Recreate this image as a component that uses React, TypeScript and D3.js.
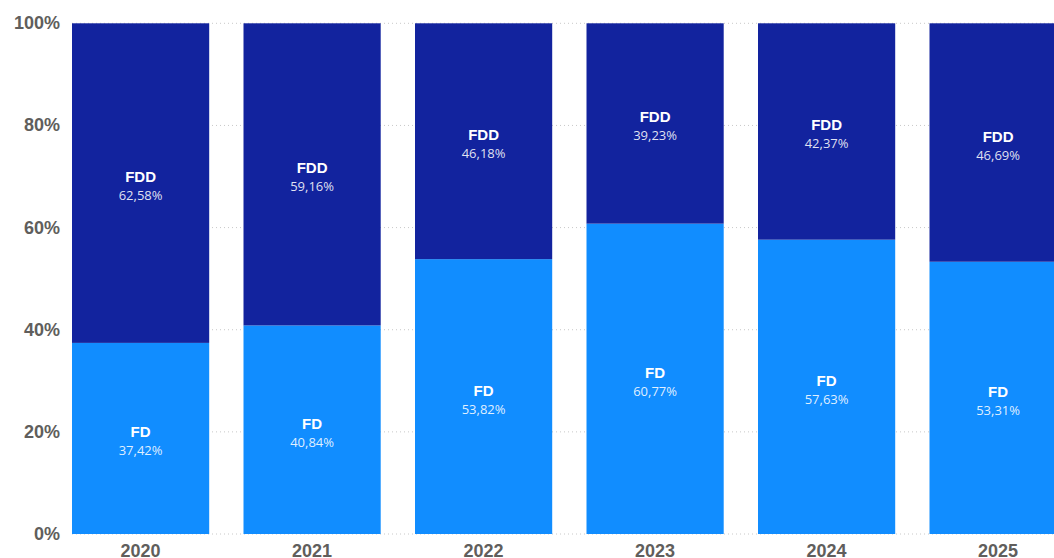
import React, { useEffect, useRef } from 'react';
import * as d3 from 'd3';

const years = ['2020', '2021', '2022', '2023', '2024', '2025'];
const fdValues = [37.42, 40.84, 53.82, 60.77, 57.63, 53.31];
const fddValues = [62.58, 59.16, 46.18, 39.23, 42.37, 46.69];
const yTicks = [0, 20, 40, 60, 80, 100];
const seriesNames = ['FD', 'FDD'];
const seriesColors = ['#118DFF', '#12239E'];

const WIDTH = 1054;
const HEIGHT = 558;

const fmt = (v: number) => d3.format('.2f')(v).replace('.', ',') + '%';

export default function App() {
  const svgRef = useRef<SVGSVGElement | null>(null);

  useEffect(() => {
    const svg = d3.select(svgRef.current);
    svg.selectAll('*').remove();

    const step = 171.5;
    const x = d3.scaleBand<string>()
      .domain(years)
      .range([54.85, 54.85 + step * years.length])
      .paddingInner(0.2)
      .paddingOuter(0.1);

    const y = d3.scaleLinear().domain([0, 100]).range([534, 23.3]);

    // gridlines
    svg.append('g')
      .selectAll('line')
      .data(yTicks)
      .enter()
      .append('line')
      .attr('x1', 72)
      .attr('x2', WIDTH)
      .attr('y1', d => y(d))
      .attr('y2', d => y(d))
      .attr('stroke', '#c8c8c8')
      .attr('stroke-width', 1)
      .attr('stroke-dasharray', '1,3');

    // y tick labels
    svg.append('g')
      .selectAll('text')
      .data(yTicks)
      .enter()
      .append('text')
      .attr('x', 60)
      .attr('y', d => y(d) + 6)
      .attr('text-anchor', 'end')
      .attr('font-family', '"Liberation Sans", Arial, sans-serif')
      .attr('font-weight', 'bold')
      .attr('font-size', '18px')
      .attr('fill', '#605E5C')
      .text(d => `${d}%`);

    const rows = years.map((yr, i) => ({ year: yr, FD: fdValues[i], FDD: fddValues[i] }));
    const stacked = d3.stack<any>().keys(seriesNames)(rows);

    stacked.forEach((layer, li) => {
      const g = svg.append('g');
      g.selectAll('rect')
        .data(layer)
        .enter()
        .append('rect')
        .attr('x', d => x(d.data.year) as number)
        .attr('width', x.bandwidth())
        .attr('y', d => y(d[1]))
        .attr('height', d => y(d[0]) - y(d[1]))
        .attr('fill', seriesColors[li]);

      // labels
      g.selectAll('text.name')
        .data(layer)
        .enter()
        .append('text')
        .attr('class', 'name')
        .attr('x', d => (x(d.data.year) as number) + x.bandwidth() / 2)
        .attr('y', d => (y(d[0]) + y(d[1])) / 2 - 1)
        .attr('text-anchor', 'middle')
        .attr('font-family', '"Liberation Sans", Arial, sans-serif')
        .attr('font-weight', 'bold')
        .attr('font-size', '15px')
        .attr('fill', '#ffffff')
        .text(seriesNames[li]);

      g.selectAll('text.val')
        .data(layer)
        .enter()
        .append('text')
        .attr('class', 'val')
        .attr('x', d => (x(d.data.year) as number) + x.bandwidth() / 2)
        .attr('y', d => (y(d[0]) + y(d[1])) / 2 + 17)
        .attr('text-anchor', 'middle')
        .attr('font-family', '"Open Sans", "Noto Sans", sans-serif')
        .attr('font-size', '13px')
        .attr('fill', '#ffffff')
        .attr('fill-opacity', 0.88)
        .text(d => fmt(d[1] - d[0]));
    });

    // x axis labels
    svg.append('g')
      .selectAll('text')
      .data(years)
      .enter()
      .append('text')
      .attr('x', d => (x(d) as number) + x.bandwidth() / 2)
      .attr('y', 557)
      .attr('text-anchor', 'middle')
      .attr('font-family', '"Liberation Sans", Arial, sans-serif')
      .attr('font-weight', 'bold')
      .attr('font-size', '18px')
      .attr('fill', '#605E5C')
      .text(d => d);
  }, []);

  return (
    <svg
      ref={svgRef}
      width={WIDTH}
      height={HEIGHT}
      style={{ position: 'absolute', left: 0, top: 0, display: 'block', background: '#fff' }}
    ></svg>
  );
}
